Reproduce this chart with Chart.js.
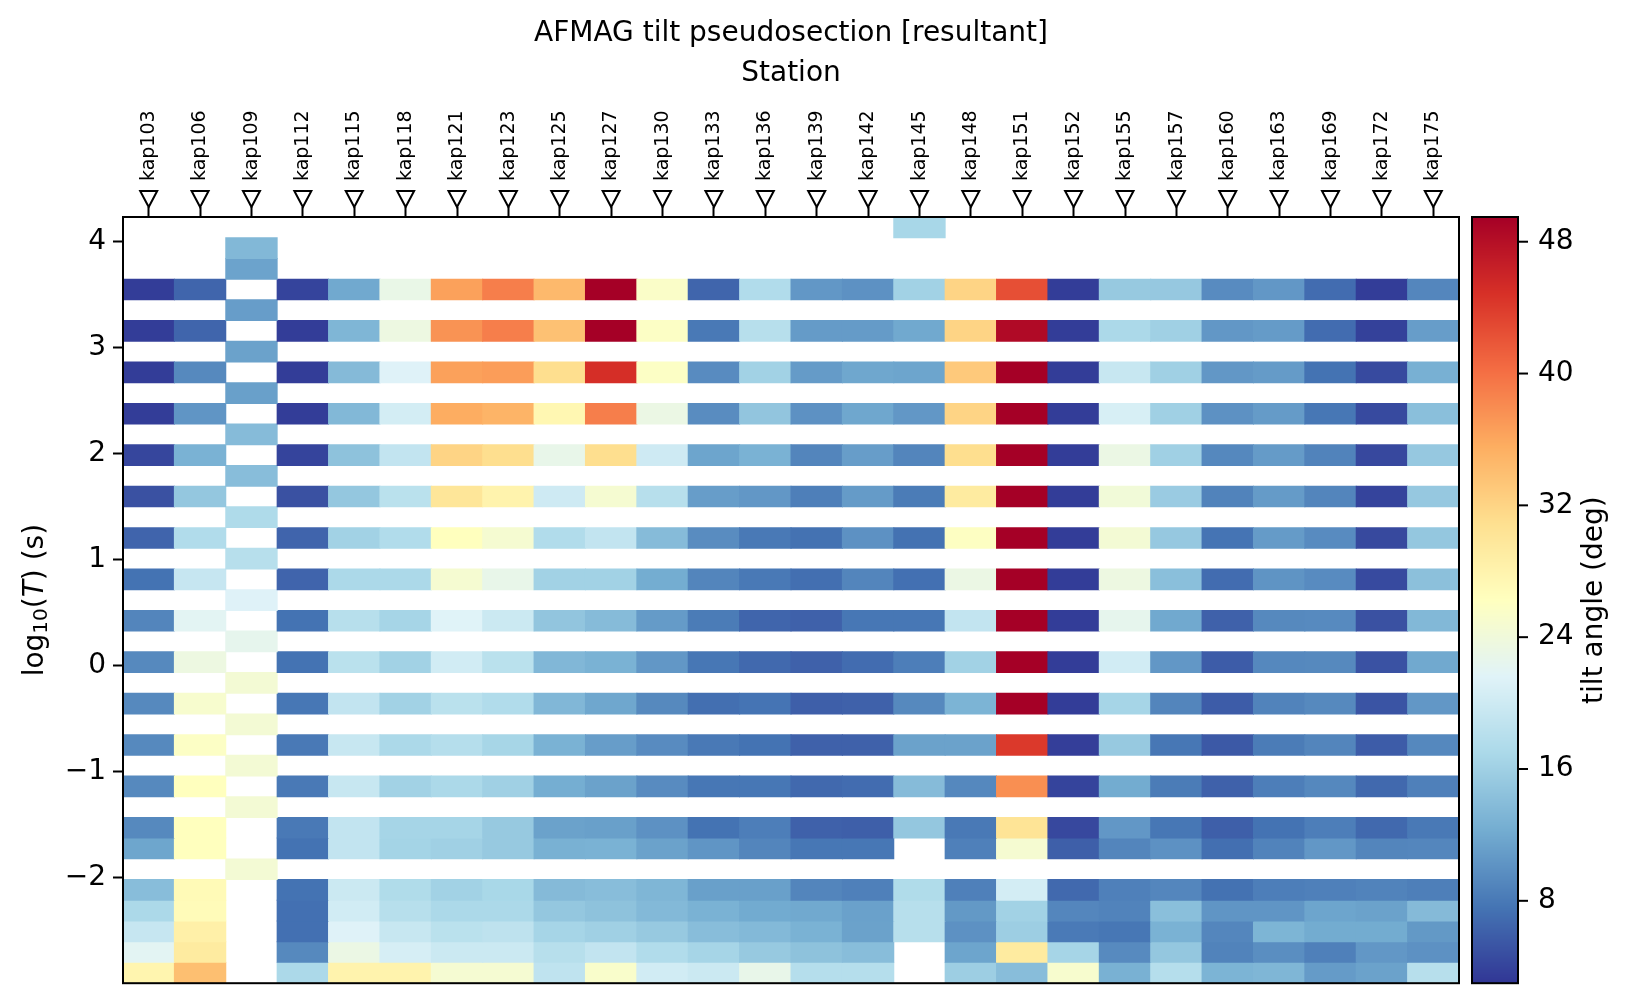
<!DOCTYPE html>
<html>
<head>
<meta charset="utf-8">
<title>AFMAG tilt pseudosection</title>
<script src="https://cdn.jsdelivr.net/npm/chart.js@4.4.1/dist/chart.umd.min.js"></script>
<style>
  html, body { margin: 0; padding: 0; background: #fff; }
  #wrap { width: 1632px; height: 1007px; }
</style>
</head>
<body>
<div id="wrap"><canvas id="chart" width="1632" height="1007"></canvas></div>
<script>
// Dados
const _ = null;

const stations = ['kap103', 'kap106', 'kap109', 'kap112', 'kap115', 'kap118', 'kap121', 'kap123',
  'kap125', 'kap127', 'kap130', 'kap133', 'kap136', 'kap139', 'kap142', 'kap145', 'kap148',
  'kap151', 'kap152', 'kap155', 'kap157', 'kap160', 'kap163', 'kap169', 'kap172', 'kap175'];

// centro de cada celula em log10(T)
const logT = [4.131, 3.936, 3.741, 3.546, 3.351, 3.156, 2.961, 2.765, 2.570, 2.375,
  2.180, 1.985, 1.790, 1.595, 1.400, 1.204, 1.009, 0.814, 0.619, 0.424,
  0.229, 0.034, -0.161, -0.357, -0.552, -0.747, -0.942, -1.137, -1.332, -1.527,
  -1.722, -1.918, -2.113, -2.308, -2.503, -2.698, -2.894];

// tilt (graus), uma linha por periodo, uma coluna por estacao
const tilt = [
  [_, _, _, _, _, _, _, _, _, _, _, _, _, _, _, 16.7, _, _, _, _, _, _, _, _, _, _],
  [_, _, 13.5, _, _, _, _, _, _, _, _, _, _, _, _, _, _, _, _, _, _, _, _, _, _, _],
  [_, _, 11.5, _, _, _, _, _, _, _, _, _, _, _, _, _, _, _, _, _, _, _, _, _, _, _],
  [3.5, 6.5, _, 4, 12, 23, 36.5, 39, 34.5, 49.5, 25.5, 6.5, 17.5, 10.5, 10, 16.2, 32, 42.5, 3.5, 15.3, 15.2, 9.5, 10.5, 7, 3.5, 9.1],
  [_, _, 11, _, _, _, _, _, _, _, _, _, _, _, _, _, _, _, _, _, _, _, _, _, _, _],
  [3.5, 6.5, _, 3.5, 13.2, 23.5, 37.5, 39, 33.8, 49.5, 25.8, 8, 18, 10.8, 10.8, 12, 32, 48.5, 3.5, 17, 16, 10.5, 10.8, 7, 3.8, 11],
  [_, _, 11.4, _, _, _, _, _, _, _, _, _, _, _, _, _, _, _, _, _, _, _, _, _, _, _],
  [3.5, 9.3, _, 3.5, 13.7, 21.5, 36.5, 36.8, 31, 45, 25.8, 9.5, 16.2, 10.8, 11.8, 11.6, 33, 49.5, 3.5, 19.4, 16, 10.5, 10.8, 7.5, 4.5, 12.6],
  [_, _, 11.2, _, _, _, _, _, _, _, _, _, _, _, _, _, _, _, _, _, _, _, _, _, _, _],
  [3.5, 10.3, _, 3.5, 13.5, 20.5, 35.6, 35, 27.5, 39, 23.2, 9.6, 14.8, 10, 11.8, 10.5, 32, 49.5, 3.5, 20.8, 16, 10, 10.8, 7.8, 4.5, 14.2],
  [_, _, 13.8, _, _, _, _, _, _, _, _, _, _, _, _, _, _, _, _, _, _, _, _, _, _, _],
  [4.2, 12.8, _, 4, 14.5, 19, 32, 31, 22.8, 31, 20, 11.6, 12.8, 9, 11, 9, 31, 49.5, 3.5, 23.2, 16, 9.2, 10.8, 8.8, 4.3, 15.2],
  [_, _, 14, _, _, _, _, _, _, _, _, _, _, _, _, _, _, _, _, _, _, _, _, _, _, _],
  [5, 15, _, 5, 15, 18.3, 30, 28, 20, 24.8, 18, 11, 10.5, 8.5, 10.8, 8.2, 29.3, 49.5, 3.5, 24.2, 15.5, 8.8, 10.8, 9, 4, 15.2],
  [_, _, 17.3, _, _, _, _, _, _, _, _, _, _, _, _, _, _, _, _, _, _, _, _, _, _, _],
  [6.4, 17.5, _, 6.4, 16.2, 17.5, 26.3, 24.8, 17.5, 19, 13.8, 9.6, 8, 7.4, 10, 7.4, 26, 49.5, 3.5, 24.5, 15.2, 7.6, 10.8, 9.5, 4.4, 15],
  [_, _, 18, _, _, _, _, _, _, _, _, _, _, _, _, _, _, _, _, _, _, _, _, _, _, _],
  [7.5, 19.3, _, 6.4, 17, 17, 24.8, 22.8, 16.2, 16.2, 12.3, 9, 8, 7.2, 9, 7.3, 23.2, 49.5, 3.5, 23.5, 14.2, 7, 10.2, 9.5, 4.5, 14.3],
  [_, _, 21.5, _, _, _, _, _, _, _, _, _, _, _, _, _, _, _, _, _, _, _, _, _, _, _],
  [9, 22, _, 7.5, 18, 16.5, 21.6, 19.8, 14.8, 13.8, 10.8, 8.2, 6.5, 6.2, 7.8, 7.8, 19, 49.5, 3.5, 22.5, 12, 6.2, 9.3, 9.4, 5, 13.5],
  [_, _, 22.5, _, _, _, _, _, _, _, _, _, _, _, _, _, _, _, _, _, _, _, _, _, _, _],
  [9.3, 23.5, _, 7.5, 18.3, 16.2, 20.3, 18.3, 13.4, 12.8, 10.5, 7.8, 6.8, 6.2, 7, 8.4, 16.2, 49.5, 3.5, 20.3, 10.5, 5.8, 9.2, 9.3, 5.1, 12],
  [_, _, 24.5, _, _, _, _, _, _, _, _, _, _, _, _, _, _, _, _, _, _, _, _, _, _, _],
  [9.3, 25, _, 7.8, 19, 16.2, 18.3, 17.5, 13.4, 11.8, 9.3, 7.2, 7.6, 6, 6.2, 9.3, 13, 49.5, 3.5, 16.5, 9, 5.8, 8.8, 9.3, 5.2, 10.5],
  [_, _, 24.5, _, _, _, _, _, _, _, _, _, _, _, _, _, _, _, _, _, _, _, _, _, _, _],
  [9.3, 25.8, _, 8, 19.4, 17, 17.8, 16.6, 12.8, 11, 9.5, 8, 7.5, 6.2, 6.2, 11.4, 11.4, 44.2, 3.6, 15.3, 7.8, 5.6, 8.2, 9, 5.8, 9.2],
  [_, _, 24.5, _, _, _, _, _, _, _, _, _, _, _, _, _, _, _, _, _, _, _, _, _, _, _],
  [9.3, 26.3, _, 8, 19.4, 16.2, 17, 16, 12.4, 11.4, 9.5, 7.8, 7.8, 6.8, 7, 13.8, 9.2, 37.8, 4, 12.2, 8.2, 6.2, 8.4, 9.2, 6.8, 8.6],
  [_, _, 24.5, _, _, _, _, _, _, _, _, _, _, _, _, _, _, _, _, _, _, _, _, _, _, _],
  [9.3, 26.3, _, 8, 19, 16.5, 16.5, 15.3, 11.4, 11.2, 10, 7.5, 8.4, 6.2, 6, 15, 8, 30.3, 4.3, 10.5, 7.8, 6, 7.5, 8.4, 6.8, 8],
  [11.7, 26.3, _, 7.5, 19, 16.4, 16, 15.3, 12.7, 12.8, 11.4, 10.3, 9, 7.8, 7.8, _, 8.6, 24.8, 6, 9, 10, 7.2, 8.8, 10.5, 9, 9.1],
  [_, _, 24.5, _, _, _, _, _, _, _, _, _, _, _, _, _, _, _, _, _, _, _, _, _, _, _],
  [14, 27, _, 7.5, 19.8, 17.4, 16.2, 16.8, 13.7, 14, 13.2, 11.2, 11.2, 9, 8.6, 17.4, 8.6, 20.5, 6.8, 8.6, 9.1, 7.4, 8.4, 8.6, 8.8, 8.5],
  [17, 26.8, _, 7.3, 20.3, 18, 17, 17, 15, 14.5, 13.6, 12.8, 12.1, 12, 11.3, 18, 10.6, 16.2, 9.1, 8.8, 14.2, 10.3, 10.3, 11.6, 11.4, 13.7],
  [19.3, 28.5, _, 7.3, 21.5, 19.4, 18.3, 18.6, 16.5, 16, 15.3, 14, 13.6, 12.8, 11.4, 18, 10, 15.8, 8.1, 7.8, 12.8, 9.1, 13.1, 12.2, 12.2, 10.6],
  [22, 29.3, _, 9.3, 23.2, 20.7, 19.8, 19.8, 18, 19, 17.5, 16.5, 15.3, 14.5, 14, _, 11.6, 29.3, 16.5, 9.4, 15, 8.8, 9.7, 8.6, 10.5, 10],
  [27.8, 34, _, 17, 28, 28, 24.7, 24.7, 18.7, 25.3, 20.3, 19.8, 22.8, 17.8, 17.8, _, 15.8, 14, 25, 12.7, 17.8, 13, 13.2, 10.8, 11.4, 18]
];

const tiltRange = [3.0, 49.5];
const yRange = [-2.992, 4.229];
const yTicks = [-2, -1, 0, 1, 2, 3, 4];
const cbTicks = [8, 16, 24, 32, 40, 48];

// Paleta RdYlBu invertida
const rdylbu = ['#313695', '#4575b4', '#74add1', '#abd9e9', '#e0f3f8', '#ffffbf',
  '#fee090', '#fdae61', '#f46d43', '#d73027', '#a50026'].map(h => [
    parseInt(h.slice(1, 3), 16), parseInt(h.slice(3, 5), 16), parseInt(h.slice(5, 7), 16)]);

function tiltColor(v) {
  let t = (v - tiltRange[0]) / (tiltRange[1] - tiltRange[0]);
  t = Math.min(1, Math.max(0, t)) * (rdylbu.length - 1);
  const i = Math.min(rdylbu.length - 2, Math.floor(t));
  const f = t - i;
  const c = rdylbu[i].map((a, j) => Math.round(a + (rdylbu[i + 1][j] - a) * f));
  return `rgb(${c[0]},${c[1]},${c[2]})`;
}

// Montar datasets (uma faixa por periodo)
const cellHalf = (logT[0] - logT[1]) / 2;
const datasets = logT.map((lt, k) => ({
  data: tilt[k].map(v => v == null ? null : [lt - cellHalf, lt + cellHalf]),
  backgroundColor: tilt[k].map(v => v == null ? 'rgba(0,0,0,0)' : tiltColor(v)),
  grouped: false,
  barPercentage: 1,
  categoryPercentage: 1,
  borderWidth: 0,
  inflateAmount: 0.5
}));

const FONT = 'DejaVu Sans';
Chart.defaults.font.family = FONT;
Chart.defaults.color = '#000';

// Moldura, marcadores de estacao, rotulo do eixo y e barra de cores
const extras = {
  id: 'extras',
  afterDraw(chart) {
    const { ctx, chartArea: a, scales: { x, cb } } = chart;
    ctx.save();
    ctx.strokeStyle = '#000';
    ctx.lineWidth = 2;
    ctx.strokeRect(a.left, a.top, a.right - a.left, a.bottom - a.top);

    // triangulos
    ctx.fillStyle = '#fff';
    stations.forEach((s, i) => {
      const px = x.getPixelForValue(i);
      const tip = a.top - 10;
      ctx.beginPath();
      ctx.moveTo(px, tip);
      ctx.lineTo(px - 8.5, tip - 16);
      ctx.lineTo(px + 8.5, tip - 16);
      ctx.closePath();
      ctx.fill();
      ctx.stroke();
    });

    // rotulo do eixo y: log10(T) (s)
    const parts = [
      ['log', `28px "${FONT}"`, 0],
      ['10', `20px "${FONT}"`, 6],
      ['(', `28px "${FONT}"`, 0],
      ['T', `italic 28px "${FONT}"`, 0],
      [') (s)', `28px "${FONT}"`, 0]
    ];
    ctx.fillStyle = '#000';
    ctx.textBaseline = 'middle';
    ctx.textAlign = 'left';
    let total = 0;
    parts.forEach(p => { ctx.font = p[1]; total += ctx.measureText(p[0]).width; });
    ctx.save();
    ctx.translate(36, (a.top + a.bottom) / 2);
    ctx.rotate(-Math.PI / 2);
    let cx = -total / 2;
    parts.forEach(p => {
      ctx.font = p[1];
      ctx.fillText(p[0], cx, p[2]);
      cx += ctx.measureText(p[0]).width;
    });
    ctx.restore();

    // barra de cores
    const left = a.right + 13, w = 46;
    for (let py = Math.floor(cb.top); py < cb.bottom; py++) {
      ctx.fillStyle = tiltColor(cb.getValueForPixel(py + 0.5));
      ctx.fillRect(left, py, w, 1);
    }
    ctx.strokeRect(left, cb.top, w, cb.bottom - cb.top);

    ctx.fillStyle = '#000';
    ctx.font = `28px "${FONT}"`;
    ctx.textAlign = 'left';
    ctx.textBaseline = 'middle';
    cbTicks.forEach(v => {
      const py = cb.getPixelForValue(v);
      ctx.beginPath();
      ctx.moveTo(left + w, py);
      ctx.lineTo(left + w + 10, py);
      ctx.stroke();
      ctx.fillText(String(v), left + w + 20, py);
    });

    ctx.translate(left + w + 77, (cb.top + cb.bottom) / 2);
    ctx.rotate(-Math.PI / 2);
    ctx.textAlign = 'center';
    ctx.fillText('tilt angle (deg)', 0, 0);
    ctx.restore();
  }
};

new Chart(document.getElementById('chart'), {
  type: 'bar',
  data: { labels: stations, datasets },
  options: {
    responsive: false,
    animation: false,
    layout: { padding: { left: 0, right: 173, top: 0, bottom: 20 } },
    plugins: { legend: { display: false }, tooltip: { enabled: false } },
    scales: {
      x: {
        position: 'top',
        offset: true,
        grid: { drawOnChartArea: false, offset: false, tickLength: 10, tickWidth: 2, tickColor: '#000' },
        border: { display: true, color: '#000', width: 2 },
        ticks: {
          autoSkip: false, minRotation: 90, maxRotation: 90, padding: 26, labelOffset: 23,
          color: '#000', font: { size: 19 }
        },
        title: {
          display: true,
          text: ['AFMAG tilt pseudosection [resultant]', 'Station'],
          color: '#000',
          font: { size: 28, lineHeight: 1.43 },
          padding: { top: 14, bottom: 0 }
        },
        afterFit: s => { s.height = 217; }
      },
      y: {
        min: yRange[0],
        max: yRange[1],
        afterBuildTicks: s => { s.ticks = yTicks.map(v => ({ value: v })); },
        grid: { drawOnChartArea: false, tickLength: 10, tickWidth: 2, tickColor: '#000' },
        border: { display: true, color: '#000', width: 2 },
        ticks: {
          padding: 7, color: '#000', font: { size: 28 },
          callback: v => v < 0 ? '\u2212' + (-v) : String(v)
        },
        title: { display: false },
        afterFit: s => { s.width = 123; }
      },
      cb: { axis: 'y', position: 'right', display: false, min: tiltRange[0], max: tiltRange[1] }
    }
  },
  plugins: [extras]
});
</script>
</body>
</html>
